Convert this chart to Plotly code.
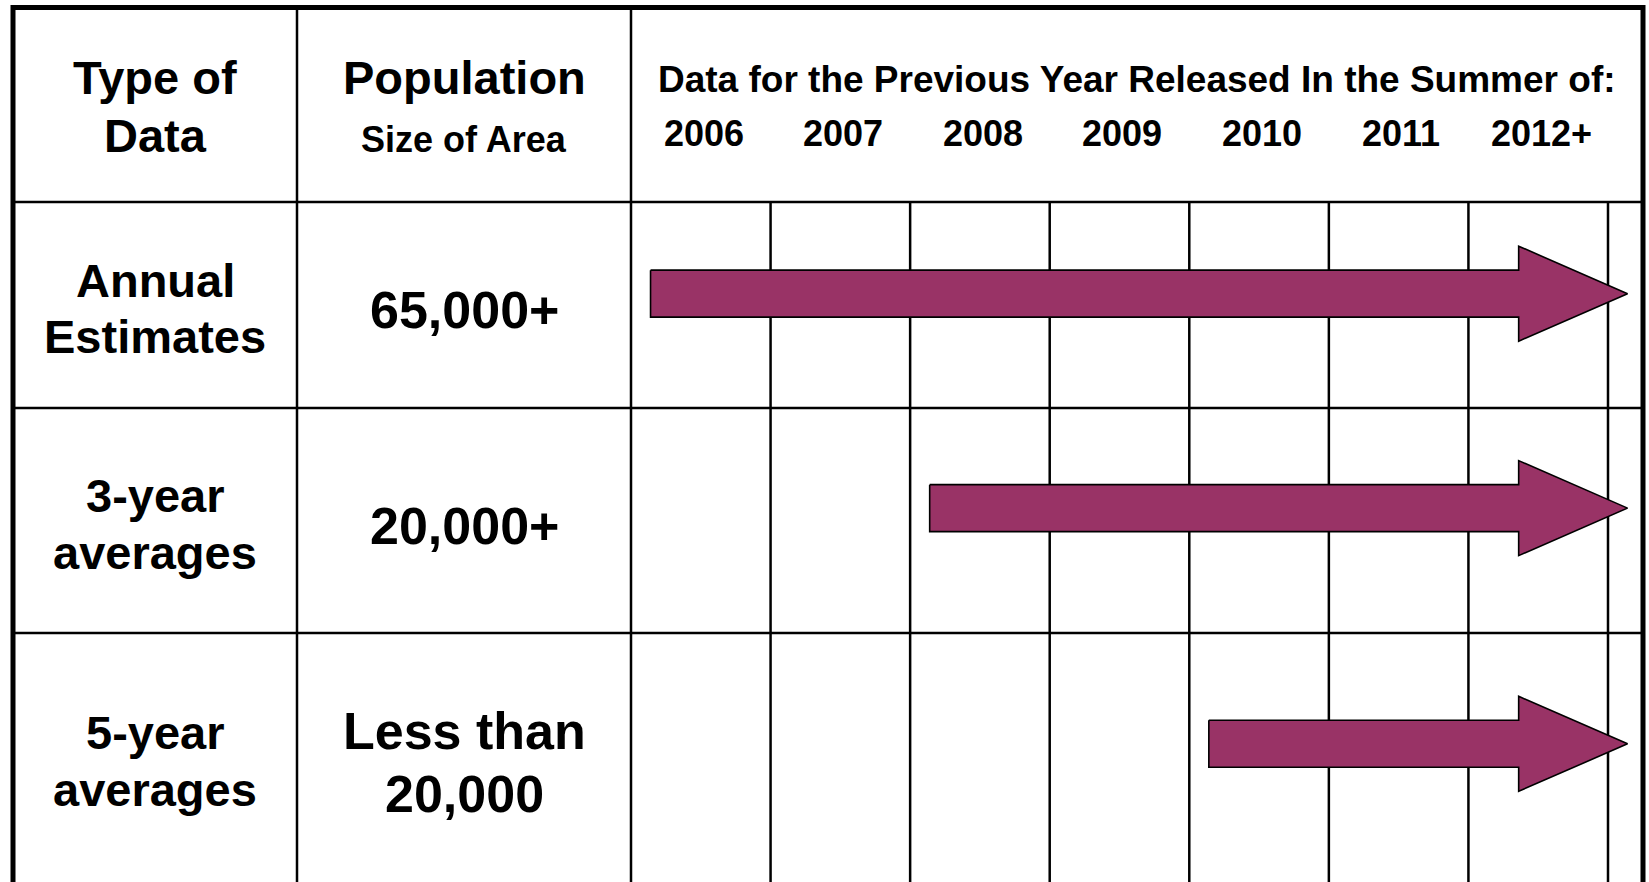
import plotly.graph_objects as go

# ---------------- data ----------------
HEADER_TYPE = ["Type of", "Data"]
HEADER_POP = ["Population", "Size of Area"]
HEADER_YEARS = "Data for the Previous Year Released In the Summer of:"
YEARS = [2006, 2007, 2008, 2009, 2010, 2011, 2012]
YEAR_LABELS = ["2006", "2007", "2008", "2009", "2010", "2011", "2012+"]
DATA_TYPES = [["Annual", "Estimates"], ["3-year", "averages"], ["5-year", "averages"]]
POP_SIZES = [["65,000+"], ["20,000+"], ["Less than", "20,000"]]
FIRST_RELEASE = [2006, 2008, 2010]

# ---------------- layout geometry (pixels) ----------------
W, H = 1649, 882
BORDER_L, BORDER_T, BORDER_R = 13, 7.5, 1643
COL_SEP = [297, 631]
ROW_SEP = [202, 408, 633]
ROW_EDGES = [BORDER_T] + ROW_SEP + [H]
YEAR_LEFT_PX = 631
YEAR_W_PX = (1608 - 631) / 7.0

FONT = "Liberation Sans, Arial, Helvetica, sans-serif"
ARROW_FILL = "#993366"

x_lo = YEARS[0] - 0.5 - YEAR_LEFT_PX / YEAR_W_PX
x_hi = x_lo + W / YEAR_W_PX


def paper(px):
    return px / W


fig = go.Figure()

# ---------------- arrows (availability from first release year onward) ----------------
SHAFT_HALF, HEAD_HALF = 23.5, 47.5
START_PAD, TIP_PAD, HEAD_LEN = 0.14, 0.14, 0.78
for i, first in enumerate(FIRST_RELEASE):
    top, bot = ROW_EDGES[i + 1], ROW_EDGES[i + 2]
    yc = top + 0.445 * (bot - top)
    xs = first - 0.5 + START_PAD
    xt = YEARS[-1] + 0.5 + TIP_PAD
    xb = xt - HEAD_LEN
    fig.add_trace(go.Scatter(
        x=[xs, xb, xb, xt, xb, xb, xs, xs],
        y=[yc - SHAFT_HALF, yc - SHAFT_HALF, yc - HEAD_HALF, yc,
           yc + HEAD_HALF, yc + SHAFT_HALF, yc + SHAFT_HALF, yc - SHAFT_HALF],
        mode="lines", fill="toself", fillcolor=ARROW_FILL,
        line=dict(color="black", width=1.6), hoverinfo="skip", showlegend=False,
    ))

# ---------------- table lines ----------------
shapes = []
LINE_W = 2.5
# year column separators (data rows only)
for yr in YEARS:
    shapes.append(dict(type="line", xref="x", yref="y", x0=yr + 0.5, x1=yr + 0.5,
                       y0=ROW_SEP[0], y1=H + 20, line=dict(color="black", width=LINE_W),
                       layer="below"))
for cx in COL_SEP:
    shapes.append(dict(type="line", xref="paper", yref="y", x0=paper(cx), x1=paper(cx),
                       y0=BORDER_T, y1=H + 20, line=dict(color="black", width=LINE_W),
                       layer="below"))
for ry in ROW_SEP:
    shapes.append(dict(type="line", xref="paper", yref="y", x0=paper(BORDER_L), x1=paper(BORDER_R),
                       y0=ry, y1=ry, line=dict(color="black", width=LINE_W), layer="below"))
shapes.append(dict(type="rect", xref="paper", yref="y", x0=paper(BORDER_L), x1=paper(BORDER_R),
                   y0=BORDER_T, y1=H + 30, line=dict(color="black", width=5), layer="above"))

# ---------------- text ----------------
ann = []


def add_text(x, y, txt, size, xref="paper", xanchor="center"):
    ann.append(dict(x=x, y=y, xref=xref, yref="y", text=txt, showarrow=False,
                    xanchor=xanchor, yanchor="middle",
                    font=dict(family=FONT, size=size, color="black", weight="bold")))


def add_block(cx_px, cy, lines, size, spacing):
    n = len(lines)
    for k, t in enumerate(lines):
        add_text(paper(cx_px), cy + (k - (n - 1) / 2.0) * spacing, t, size)


col1_c = (BORDER_L + COL_SEP[0]) / 2.0
col2_c = (COL_SEP[0] + COL_SEP[1]) / 2.0

# header
add_text(paper(col1_c), 77.5, HEADER_TYPE[0], 47)
add_text(paper(col1_c), 135, HEADER_TYPE[1], 47)
add_text(paper(col2_c), 77.5, HEADER_POP[0], 47)
add_text(paper(col2_c), 139, HEADER_POP[1], 36)
add_text(paper(656), 79.5, HEADER_YEARS, 37, xanchor="left")
for yr, lab in zip(YEARS, YEAR_LABELS):
    add_text(yr + 0.02, 133, lab, 36, xref="x")

# rows
for i in range(3):
    top, bot = ROW_EDGES[i + 1], ROW_EDGES[i + 2]
    rc = (top + bot) / 2.0
    add_block(col1_c, rc + 3.5, DATA_TYPES[i], 47, 56.5)
    add_block(col2_c, rc + 5, POP_SIZES[i], 52, 63.5)

fig.update_layout(
    width=W, height=H, autosize=False,
    margin=dict(l=0, r=0, t=0, b=0, pad=0),
    paper_bgcolor="white", plot_bgcolor="white",
    xaxis=dict(range=[x_lo, x_hi], visible=False, fixedrange=True),
    yaxis=dict(range=[H, 0], visible=False, fixedrange=True),
    shapes=shapes, annotations=ann, showlegend=False,
)

fig.write_html("out.html", config={"displayModeBar": False},
               post_script="document.body.style.margin='0';document.body.style.overflow='hidden';")
